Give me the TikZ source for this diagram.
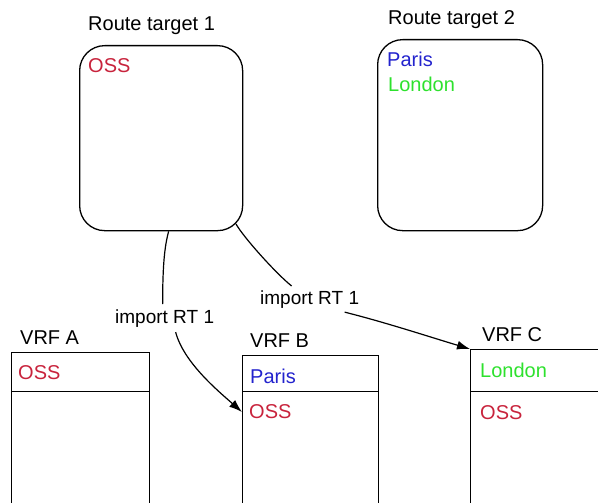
\documentclass[tikz,border=0pt]{standalone}
\usepackage{fontspec}
\setmainfont{Liberation Sans}
\usetikzlibrary{arrows.meta}
\definecolor{ossred}{RGB}{200,35,60}
\definecolor{parisblue}{RGB}{35,35,205}
\definecolor{londongreen}{RGB}{45,225,45}
\begin{document}
\begin{tikzpicture}[x=1pt,y=1pt,
  rtbox/.style={draw, line width=1.3pt, rounded corners=25pt, inner sep=0pt, anchor=north west},
  cell/.style={draw, line width=1.3pt, inner sep=0pt, anchor=north west},
  txt/.style={inner sep=0pt, anchor=base west, font=\fontsize{20}{24}\selectfont},
  imptxt/.style={inner sep=0pt, anchor=base west, font=\fontsize{19}{23}\selectfont},
  conn/.style={line width=1.2pt},
  arr/.style={conn, -{Latex[length=13pt,width=9pt]}}]
\useasboundingbox (0,0) rectangle (598,-503);
\clip (0,0) rectangle (598,-503);

% route targets
\node[rtbox, minimum width=163pt, minimum height=185pt] (rt1) at (79,-45) {};
\node[rtbox, minimum width=165pt, minimum height=191pt] (rt2) at (377,-39) {};
\node[txt] (rt1lab) at (88,-31) {Route target 1};
\node[txt] (rt2lab) at (388,-25) {Route target 2};
\node[txt, text=ossred] (rt1oss) at (88,-73) {OSS};
\node[txt, text=parisblue] (rt2paris) at (387,-67) {Paris};
\node[txt, text=londongreen] (rt2london) at (388,-92) {London};

% VRF A
\node[cell, minimum width=138pt, minimum height=39pt] (tA) at (11,-352) {};
\node[cell, minimum width=138pt, minimum height=130pt] (bA) at (11,-391) {};
\node[txt] (labA) at (20,-344) {VRF A};
\node[txt, text=ossred] (ossA) at (18,-379) {OSS};

% VRF B
\node[cell, minimum width=136pt, minimum height=36pt] (tB) at (242,-355) {};
\node[cell, minimum width=136pt, minimum height=130pt] (bB) at (242,-391) {};
\node[txt] (labB) at (250,-347) {VRF B};
\node[txt, text=parisblue] (parisB) at (250,-383) {Paris};
\node[txt, text=ossred] (ossB) at (249,-418) {OSS};

% VRF C
\node[cell, minimum width=140pt, minimum height=42pt] (tC) at (470,-349) {};
\node[cell, minimum width=140pt, minimum height=130pt] (bC) at (470,-391) {};
\node[txt] (labC) at (482,-341) {VRF C};
\node[txt, text=londongreen] (londonC) at (480,-377) {London};
\node[txt, text=ossred] (ossC) at (480,-419) {OSS};

% import labels
\node[imptxt] (lab1) at (115,-323) {import RT 1};
\node[imptxt] (lab2) at (260,-304) {import RT 1};

% connector 1
\draw[conn] ([xshift=7.5pt]rt1.south) .. controls +(-4,-15) and +(0,40) .. ([xshift=-2pt,yshift=5pt]lab1.north);
\draw[arr] ([xshift=11pt,yshift=-5pt]lab1.south) .. controls +(8,-30) and +(-25,22) .. ([yshift=-21pt]bB.north west);

% connector 2
\draw[conn] ([xshift=-7.3pt,yshift=7.3pt]rt1.south east) .. controls +(8,-14) and +(-15,12) .. ([xshift=-18pt,yshift=4pt]lab2.north);
\draw[arr] ([xshift=35pt,yshift=-4pt]lab2.south) .. controls +(40,-10) and +(-40,12) .. (tC.north west);
\end{tikzpicture}
\end{document}
